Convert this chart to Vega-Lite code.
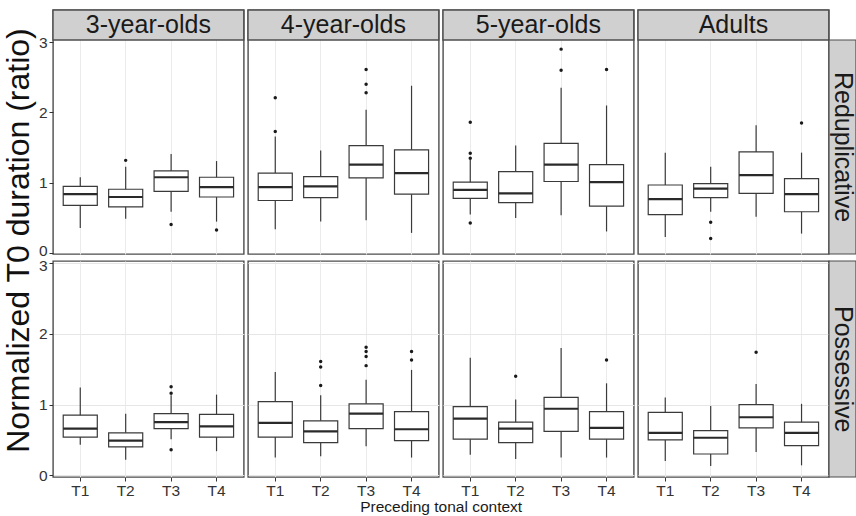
{
"$schema": "https://vega.github.io/schema/vega-lite/v6.json",
"padding": {"left": 0, "top": 8, "right": 0, "bottom": 0},
"background": "white",
"datasets": {"d": [
{"kind":"ytitle","label":"Normalized T0 duration (ratio)"},
{"kind":"rowlab","type":"Reduplicative"},
{"kind":"rowlab","type":"Possessive"},
{"kind":"lab","type":"Reduplicative","age":"3-year-olds"},
{"kind":"lab","type":"Reduplicative","age":"4-year-olds"},
{"kind":"lab","type":"Reduplicative","age":"5-year-olds"},
{"kind":"lab","type":"Reduplicative","age":"Adults"},
{"kind":"box","type":"Reduplicative","age":"3-year-olds","ctx":"T1","low":0.36,"q1":0.68,"median":0.84,"q3":0.95,"high":1.08},
{"kind":"box","type":"Reduplicative","age":"3-year-olds","ctx":"T2","low":0.49,"q1":0.66,"median":0.80,"q3":0.91,"high":1.23},
{"kind":"box","type":"Reduplicative","age":"3-year-olds","ctx":"T3","low":0.59,"q1":0.88,"median":1.08,"q3":1.17,"high":1.41},
{"kind":"box","type":"Reduplicative","age":"3-year-olds","ctx":"T4","low":0.45,"q1":0.80,"median":0.94,"q3":1.08,"high":1.31},
{"kind":"box","type":"Reduplicative","age":"4-year-olds","ctx":"T1","low":0.34,"q1":0.75,"median":0.94,"q3":1.14,"high":1.66},
{"kind":"box","type":"Reduplicative","age":"4-year-olds","ctx":"T2","low":0.45,"q1":0.79,"median":0.95,"q3":1.09,"high":1.46},
{"kind":"box","type":"Reduplicative","age":"4-year-olds","ctx":"T3","low":0.47,"q1":1.07,"median":1.26,"q3":1.53,"high":2.04},
{"kind":"box","type":"Reduplicative","age":"4-year-olds","ctx":"T4","low":0.29,"q1":0.84,"median":1.14,"q3":1.47,"high":2.38},
{"kind":"box","type":"Reduplicative","age":"5-year-olds","ctx":"T1","low":0.55,"q1":0.78,"median":0.90,"q3":1.01,"high":1.33},
{"kind":"box","type":"Reduplicative","age":"5-year-olds","ctx":"T2","low":0.50,"q1":0.72,"median":0.85,"q3":1.16,"high":1.53},
{"kind":"box","type":"Reduplicative","age":"5-year-olds","ctx":"T3","low":0.54,"q1":1.02,"median":1.26,"q3":1.56,"high":2.35},
{"kind":"box","type":"Reduplicative","age":"5-year-olds","ctx":"T4","low":0.31,"q1":0.67,"median":1.01,"q3":1.26,"high":2.10},
{"kind":"box","type":"Reduplicative","age":"Adults","ctx":"T1","low":0.23,"q1":0.55,"median":0.77,"q3":0.97,"high":1.43},
{"kind":"box","type":"Reduplicative","age":"Adults","ctx":"T2","low":0.59,"q1":0.79,"median":0.92,"q3":0.99,"high":1.23},
{"kind":"box","type":"Reduplicative","age":"Adults","ctx":"T3","low":0.52,"q1":0.85,"median":1.11,"q3":1.44,"high":1.82},
{"kind":"box","type":"Reduplicative","age":"Adults","ctx":"T4","low":0.28,"q1":0.59,"median":0.84,"q3":1.06,"high":1.43},
{"kind":"out","type":"Reduplicative","age":"3-year-olds","ctx":"T2","value":1.32},
{"kind":"out","type":"Reduplicative","age":"3-year-olds","ctx":"T3","value":0.41},
{"kind":"out","type":"Reduplicative","age":"3-year-olds","ctx":"T4","value":0.33},
{"kind":"out","type":"Reduplicative","age":"4-year-olds","ctx":"T1","value":2.21},
{"kind":"out","type":"Reduplicative","age":"4-year-olds","ctx":"T1","value":1.73},
{"kind":"out","type":"Reduplicative","age":"4-year-olds","ctx":"T3","value":2.61},
{"kind":"out","type":"Reduplicative","age":"4-year-olds","ctx":"T3","value":2.40},
{"kind":"out","type":"Reduplicative","age":"4-year-olds","ctx":"T3","value":2.28},
{"kind":"out","type":"Reduplicative","age":"5-year-olds","ctx":"T1","value":1.86},
{"kind":"out","type":"Reduplicative","age":"5-year-olds","ctx":"T1","value":1.42},
{"kind":"out","type":"Reduplicative","age":"5-year-olds","ctx":"T1","value":1.35},
{"kind":"out","type":"Reduplicative","age":"5-year-olds","ctx":"T1","value":0.43},
{"kind":"out","type":"Reduplicative","age":"5-year-olds","ctx":"T3","value":2.90},
{"kind":"out","type":"Reduplicative","age":"5-year-olds","ctx":"T3","value":2.60},
{"kind":"out","type":"Reduplicative","age":"5-year-olds","ctx":"T4","value":2.61},
{"kind":"out","type":"Reduplicative","age":"Adults","ctx":"T2","value":0.44},
{"kind":"out","type":"Reduplicative","age":"Adults","ctx":"T2","value":0.21},
{"kind":"out","type":"Reduplicative","age":"Adults","ctx":"T4","value":1.85},
{"kind":"box","type":"Possessive","age":"3-year-olds","ctx":"T1","low":0.43,"q1":0.54,"median":0.66,"q3":0.85,"high":1.24},
{"kind":"box","type":"Possessive","age":"3-year-olds","ctx":"T2","low":0.22,"q1":0.40,"median":0.49,"q3":0.60,"high":0.87},
{"kind":"box","type":"Possessive","age":"3-year-olds","ctx":"T3","low":0.51,"q1":0.66,"median":0.75,"q3":0.87,"high":1.13},
{"kind":"box","type":"Possessive","age":"3-year-olds","ctx":"T4","low":0.34,"q1":0.54,"median":0.69,"q3":0.86,"high":1.14},
{"kind":"box","type":"Possessive","age":"4-year-olds","ctx":"T1","low":0.25,"q1":0.54,"median":0.74,"q3":1.04,"high":1.46},
{"kind":"box","type":"Possessive","age":"4-year-olds","ctx":"T2","low":0.27,"q1":0.46,"median":0.62,"q3":0.77,"high":1.13},
{"kind":"box","type":"Possessive","age":"4-year-olds","ctx":"T3","low":0.41,"q1":0.66,"median":0.87,"q3":1.01,"high":1.35},
{"kind":"box","type":"Possessive","age":"4-year-olds","ctx":"T4","low":0.25,"q1":0.49,"median":0.65,"q3":0.90,"high":1.49},
{"kind":"box","type":"Possessive","age":"5-year-olds","ctx":"T1","low":0.29,"q1":0.51,"median":0.80,"q3":0.97,"high":1.66},
{"kind":"box","type":"Possessive","age":"5-year-olds","ctx":"T2","low":0.23,"q1":0.46,"median":0.66,"q3":0.75,"high":1.07},
{"kind":"box","type":"Possessive","age":"5-year-olds","ctx":"T3","low":0.25,"q1":0.62,"median":0.94,"q3":1.10,"high":1.80},
{"kind":"box","type":"Possessive","age":"5-year-olds","ctx":"T4","low":0.25,"q1":0.51,"median":0.67,"q3":0.90,"high":1.30},
{"kind":"box","type":"Possessive","age":"Adults","ctx":"T1","low":0.20,"q1":0.50,"median":0.60,"q3":0.89,"high":1.10},
{"kind":"box","type":"Possessive","age":"Adults","ctx":"T2","low":0.13,"q1":0.30,"median":0.53,"q3":0.63,"high":0.98},
{"kind":"box","type":"Possessive","age":"Adults","ctx":"T3","low":0.33,"q1":0.67,"median":0.82,"q3":1.00,"high":1.29},
{"kind":"box","type":"Possessive","age":"Adults","ctx":"T4","low":0.14,"q1":0.42,"median":0.60,"q3":0.75,"high":1.01},
{"kind":"out","type":"Possessive","age":"3-year-olds","ctx":"T3","value":1.25},
{"kind":"out","type":"Possessive","age":"3-year-olds","ctx":"T3","value":1.16},
{"kind":"out","type":"Possessive","age":"3-year-olds","ctx":"T3","value":0.36},
{"kind":"out","type":"Possessive","age":"4-year-olds","ctx":"T2","value":1.61},
{"kind":"out","type":"Possessive","age":"4-year-olds","ctx":"T2","value":1.53},
{"kind":"out","type":"Possessive","age":"4-year-olds","ctx":"T2","value":1.27},
{"kind":"out","type":"Possessive","age":"4-year-olds","ctx":"T3","value":1.81},
{"kind":"out","type":"Possessive","age":"4-year-olds","ctx":"T3","value":1.75},
{"kind":"out","type":"Possessive","age":"4-year-olds","ctx":"T3","value":1.68},
{"kind":"out","type":"Possessive","age":"4-year-olds","ctx":"T3","value":1.55},
{"kind":"out","type":"Possessive","age":"4-year-olds","ctx":"T4","value":1.75},
{"kind":"out","type":"Possessive","age":"4-year-olds","ctx":"T4","value":1.63},
{"kind":"out","type":"Possessive","age":"5-year-olds","ctx":"T2","value":1.40},
{"kind":"out","type":"Possessive","age":"5-year-olds","ctx":"T4","value":1.63},
{"kind":"out","type":"Possessive","age":"Adults","ctx":"T3","value":1.74}
]},
"hconcat": [
{
 "data": {"name": "d"},
 "transform": [{"filter": "datum.kind === 'ytitle'"}],
 "width": 37, "height": 467,
 "view": {"stroke": null},
 "mark": {"type": "text", "angle": 270, "fontSize": 32, "color": "#111111", "baseline": "middle", "align": "center", "dx": 3},
 "encoding": {"text": {"field": "label"}}
},
{
 "title": {"text": "Preceding tonal context", "orient": "bottom", "anchor": "middle", "fontSize": 15.5, "fontWeight": "normal", "color": "#1a1a1a", "offset": 1, "dx": -6},
 "columns": 5,
 "spacing": {"row": 7, "column": 4},
 "align": "each",
 "bounds": "flush",
 "concat": [
  {"data": {"name": "d"}, "transform": [{"filter": "datum.type === 'Reduplicative' && datum.age === '3-year-olds'"}], "width": 190.8, "height": 244,
   "layer": [
    {"transform": [{"filter": "datum.kind === 'lab'"}], "mark": {"type": "rect", "fill": "#d0d0d0", "stroke": "#4d4d4d", "strokeWidth": 1.4},
     "encoding": {"y": {"datum": 3.03, "type": "quantitative", "title": null, "scale": {"domain": [-0.01, 3.456], "nice": false, "zero": false},
       "axis": {"values": [0,0.5,1,1.5,2,2.5,3], "title": null, "labelExpr": "datum.value % 1 === 0 ? '' + datum.value : ''", "labelOffset": {"condition": {"test": "datum.value === 0", "value": -3}, "value": 0}, "tickOpacity": {"condition": {"test": "datum.value % 1 === 0", "value": 1}, "value": 0}, "gridColor": {"condition": {"test": "datum.value % 1 === 0", "value": "#e6e6e6"}, "value": "#f2f2f2"}}},
      "y2": {"datum": 3.456}}},
    {"transform": [{"filter": "datum.kind === 'lab'"}], "mark": {"type": "text", "fontSize": 25, "color": "#1a1a1a", "baseline": "middle"},
     "encoding": {"text": {"field": "age"}, "y": {"datum": 3.243, "type": "quantitative", "title": null, "scale": {"domain": [-0.01, 3.456], "nice": false, "zero": false}}}},
    {"transform": [{"filter": "datum.kind === 'box'"}], "mark": {"type": "rule", "color": "#3a3a3a", "strokeWidth": 1.2},
     "encoding": {"x": {"field": "ctx", "type": "nominal", "title": null, "scale": {"paddingInner": 0.25, "paddingOuter": 0.225}, "axis": {"title": null, "bandPosition": 0.5, "grid": true, "labels": false, "ticks": false}},
      "y": {"field": "low", "type": "quantitative", "title": null, "scale": {"domain": [-0.01, 3.456], "nice": false, "zero": false}}, "y2": {"field": "high"}}},
    {"transform": [{"filter": "datum.kind === 'box'"}], "mark": {"type": "bar", "fill": "white", "stroke": "#3a3a3a", "strokeWidth": 1.2},
     "encoding": {"x": {"field": "ctx", "type": "nominal", "title": null}, "y": {"field": "q1", "type": "quantitative", "title": null, "scale": {"domain": [-0.01, 3.456], "nice": false, "zero": false}}, "y2": {"field": "q3"}}},
    {"transform": [{"filter": "datum.kind === 'box'"}], "mark": {"type": "bar", "fill": "#2a2a2a", "stroke": "#2a2a2a", "strokeWidth": 2.2},
     "encoding": {"x": {"field": "ctx", "type": "nominal", "title": null}, "y": {"field": "median", "type": "quantitative", "title": null, "scale": {"domain": [-0.01, 3.456], "nice": false, "zero": false}}, "y2": {"field": "median"}}},
    {"transform": [{"filter": "datum.kind === 'out'"}], "mark": {"type": "circle", "size": 12, "color": "#1a1a1a", "opacity": 1},
     "encoding": {"x": {"field": "ctx", "type": "nominal", "title": null}, "y": {"field": "value", "type": "quantitative", "title": null, "scale": {"domain": [-0.01, 3.456], "nice": false, "zero": false}}}}
   ]},
  {"data": {"name": "d"}, "transform": [{"filter": "datum.type === 'Reduplicative' && datum.age === '4-year-olds'"}], "width": 190.8, "height": 244,
   "layer": [
    {"transform": [{"filter": "datum.kind === 'lab'"}], "mark": {"type": "rect", "fill": "#d0d0d0", "stroke": "#4d4d4d", "strokeWidth": 1.4},
     "encoding": {"y": {"datum": 3.03, "type": "quantitative", "title": null, "scale": {"domain": [-0.01, 3.456], "nice": false, "zero": false},
       "axis": {"values": [0,0.5,1,1.5,2,2.5,3], "title": null, "labels": false, "ticks": false, "gridColor": {"condition": {"test": "datum.value % 1 === 0", "value": "#e6e6e6"}, "value": "#f2f2f2"}}},
      "y2": {"datum": 3.456}}},
    {"transform": [{"filter": "datum.kind === 'lab'"}], "mark": {"type": "text", "fontSize": 25, "color": "#1a1a1a", "baseline": "middle"},
     "encoding": {"text": {"field": "age"}, "y": {"datum": 3.243, "type": "quantitative", "title": null, "scale": {"domain": [-0.01, 3.456], "nice": false, "zero": false}}}},
    {"transform": [{"filter": "datum.kind === 'box'"}], "mark": {"type": "rule", "color": "#3a3a3a", "strokeWidth": 1.2},
     "encoding": {"x": {"field": "ctx", "type": "nominal", "title": null, "scale": {"paddingInner": 0.25, "paddingOuter": 0.225}, "axis": {"title": null, "bandPosition": 0.5, "grid": true, "labels": false, "ticks": false}},
      "y": {"field": "low", "type": "quantitative", "title": null, "scale": {"domain": [-0.01, 3.456], "nice": false, "zero": false}}, "y2": {"field": "high"}}},
    {"transform": [{"filter": "datum.kind === 'box'"}], "mark": {"type": "bar", "fill": "white", "stroke": "#3a3a3a", "strokeWidth": 1.2},
     "encoding": {"x": {"field": "ctx", "type": "nominal", "title": null}, "y": {"field": "q1", "type": "quantitative", "title": null, "scale": {"domain": [-0.01, 3.456], "nice": false, "zero": false}}, "y2": {"field": "q3"}}},
    {"transform": [{"filter": "datum.kind === 'box'"}], "mark": {"type": "bar", "fill": "#2a2a2a", "stroke": "#2a2a2a", "strokeWidth": 2.2},
     "encoding": {"x": {"field": "ctx", "type": "nominal", "title": null}, "y": {"field": "median", "type": "quantitative", "title": null, "scale": {"domain": [-0.01, 3.456], "nice": false, "zero": false}}, "y2": {"field": "median"}}},
    {"transform": [{"filter": "datum.kind === 'out'"}], "mark": {"type": "circle", "size": 12, "color": "#1a1a1a", "opacity": 1},
     "encoding": {"x": {"field": "ctx", "type": "nominal", "title": null}, "y": {"field": "value", "type": "quantitative", "title": null, "scale": {"domain": [-0.01, 3.456], "nice": false, "zero": false}}}}
   ]},
  {"data": {"name": "d"}, "transform": [{"filter": "datum.type === 'Reduplicative' && datum.age === '5-year-olds'"}], "width": 190.8, "height": 244,
   "layer": [
    {"transform": [{"filter": "datum.kind === 'lab'"}], "mark": {"type": "rect", "fill": "#d0d0d0", "stroke": "#4d4d4d", "strokeWidth": 1.4},
     "encoding": {"y": {"datum": 3.03, "type": "quantitative", "title": null, "scale": {"domain": [-0.01, 3.456], "nice": false, "zero": false},
       "axis": {"values": [0,0.5,1,1.5,2,2.5,3], "title": null, "labels": false, "ticks": false, "gridColor": {"condition": {"test": "datum.value % 1 === 0", "value": "#e6e6e6"}, "value": "#f2f2f2"}}},
      "y2": {"datum": 3.456}}},
    {"transform": [{"filter": "datum.kind === 'lab'"}], "mark": {"type": "text", "fontSize": 25, "color": "#1a1a1a", "baseline": "middle"},
     "encoding": {"text": {"field": "age"}, "y": {"datum": 3.243, "type": "quantitative", "title": null, "scale": {"domain": [-0.01, 3.456], "nice": false, "zero": false}}}},
    {"transform": [{"filter": "datum.kind === 'box'"}], "mark": {"type": "rule", "color": "#3a3a3a", "strokeWidth": 1.2},
     "encoding": {"x": {"field": "ctx", "type": "nominal", "title": null, "scale": {"paddingInner": 0.25, "paddingOuter": 0.225}, "axis": {"title": null, "bandPosition": 0.5, "grid": true, "labels": false, "ticks": false}},
      "y": {"field": "low", "type": "quantitative", "title": null, "scale": {"domain": [-0.01, 3.456], "nice": false, "zero": false}}, "y2": {"field": "high"}}},
    {"transform": [{"filter": "datum.kind === 'box'"}], "mark": {"type": "bar", "fill": "white", "stroke": "#3a3a3a", "strokeWidth": 1.2},
     "encoding": {"x": {"field": "ctx", "type": "nominal", "title": null}, "y": {"field": "q1", "type": "quantitative", "title": null, "scale": {"domain": [-0.01, 3.456], "nice": false, "zero": false}}, "y2": {"field": "q3"}}},
    {"transform": [{"filter": "datum.kind === 'box'"}], "mark": {"type": "bar", "fill": "#2a2a2a", "stroke": "#2a2a2a", "strokeWidth": 2.2},
     "encoding": {"x": {"field": "ctx", "type": "nominal", "title": null}, "y": {"field": "median", "type": "quantitative", "title": null, "scale": {"domain": [-0.01, 3.456], "nice": false, "zero": false}}, "y2": {"field": "median"}}},
    {"transform": [{"filter": "datum.kind === 'out'"}], "mark": {"type": "circle", "size": 12, "color": "#1a1a1a", "opacity": 1},
     "encoding": {"x": {"field": "ctx", "type": "nominal", "title": null}, "y": {"field": "value", "type": "quantitative", "title": null, "scale": {"domain": [-0.01, 3.456], "nice": false, "zero": false}}}}
   ]},
  {"data": {"name": "d"}, "transform": [{"filter": "datum.type === 'Reduplicative' && datum.age === 'Adults'"}], "width": 190.8, "height": 244,
   "layer": [
    {"transform": [{"filter": "datum.kind === 'lab'"}], "mark": {"type": "rect", "fill": "#d0d0d0", "stroke": "#4d4d4d", "strokeWidth": 1.4},
     "encoding": {"y": {"datum": 3.03, "type": "quantitative", "title": null, "scale": {"domain": [-0.01, 3.456], "nice": false, "zero": false},
       "axis": {"values": [0,0.5,1,1.5,2,2.5,3], "title": null, "labels": false, "ticks": false, "gridColor": {"condition": {"test": "datum.value % 1 === 0", "value": "#e6e6e6"}, "value": "#f2f2f2"}}},
      "y2": {"datum": 3.456}}},
    {"transform": [{"filter": "datum.kind === 'lab'"}], "mark": {"type": "text", "fontSize": 25, "color": "#1a1a1a", "baseline": "middle"},
     "encoding": {"text": {"field": "age"}, "y": {"datum": 3.243, "type": "quantitative", "title": null, "scale": {"domain": [-0.01, 3.456], "nice": false, "zero": false}}}},
    {"transform": [{"filter": "datum.kind === 'box'"}], "mark": {"type": "rule", "color": "#3a3a3a", "strokeWidth": 1.2},
     "encoding": {"x": {"field": "ctx", "type": "nominal", "title": null, "scale": {"paddingInner": 0.25, "paddingOuter": 0.225}, "axis": {"title": null, "bandPosition": 0.5, "grid": true, "labels": false, "ticks": false}},
      "y": {"field": "low", "type": "quantitative", "title": null, "scale": {"domain": [-0.01, 3.456], "nice": false, "zero": false}}, "y2": {"field": "high"}}},
    {"transform": [{"filter": "datum.kind === 'box'"}], "mark": {"type": "bar", "fill": "white", "stroke": "#3a3a3a", "strokeWidth": 1.2},
     "encoding": {"x": {"field": "ctx", "type": "nominal", "title": null}, "y": {"field": "q1", "type": "quantitative", "title": null, "scale": {"domain": [-0.01, 3.456], "nice": false, "zero": false}}, "y2": {"field": "q3"}}},
    {"transform": [{"filter": "datum.kind === 'box'"}], "mark": {"type": "bar", "fill": "#2a2a2a", "stroke": "#2a2a2a", "strokeWidth": 2.2},
     "encoding": {"x": {"field": "ctx", "type": "nominal", "title": null}, "y": {"field": "median", "type": "quantitative", "title": null, "scale": {"domain": [-0.01, 3.456], "nice": false, "zero": false}}, "y2": {"field": "median"}}},
    {"transform": [{"filter": "datum.kind === 'out'"}], "mark": {"type": "circle", "size": 12, "color": "#1a1a1a", "opacity": 1},
     "encoding": {"x": {"field": "ctx", "type": "nominal", "title": null}, "y": {"field": "value", "type": "quantitative", "title": null, "scale": {"domain": [-0.01, 3.456], "nice": false, "zero": false}}}}
   ]},
  {"data": {"name": "d"}, "transform": [{"filter": "datum.kind === 'rowlab' && datum.type === 'Reduplicative'"}], "width": 23, "height": 244, "view": {"stroke": null},
   "layer": [
    {"mark": {"type": "rect", "fill": "#d0d0d0", "stroke": "#4d4d4d", "strokeWidth": 1.2},
     "encoding": {"x": {"datum": -0.1739, "type": "quantitative", "scale": {"domain": [0, 1], "nice": false, "zero": false}, "axis": null}, "x2": {"datum": 1},
      "y": {"datum": 3.03, "type": "quantitative", "scale": {"domain": [-0.01, 3.456], "nice": false, "zero": false}, "axis": null}, "y2": {"datum": -0.01}}},
    {"mark": {"type": "text", "angle": 90, "fontSize": 25, "color": "#1a1a1a", "baseline": "middle", "align": "center"},
     "encoding": {"text": {"field": "type"}, "x": {"datum": 0.42, "type": "quantitative", "scale": {"domain": [0, 1], "nice": false, "zero": false}, "axis": null},
      "y": {"datum": 1.51, "type": "quantitative", "scale": {"domain": [-0.01, 3.456], "nice": false, "zero": false}, "axis": null}}}
   ]},
  {"data": {"name": "d"}, "transform": [{"filter": "datum.type === 'Possessive' && datum.age === '3-year-olds'"}], "width": 190.8, "height": 216,
   "layer": [
    {"transform": [{"filter": "datum.kind === 'box'"}], "mark": {"type": "rule", "color": "#3a3a3a", "strokeWidth": 1.2},
     "encoding": {"x": {"field": "ctx", "type": "nominal", "title": null, "scale": {"paddingInner": 0.25, "paddingOuter": 0.225}, "axis": {"title": null, "bandPosition": 0.5, "grid": true, "labelAngle": 0}},
      "y": {"field": "low", "type": "quantitative", "title": null, "scale": {"domain": [-0.025, 3.03], "nice": false, "zero": false},
       "axis": {"values": [0,0.5,1,1.5,2,2.5,3], "title": null, "labelExpr": "datum.value % 1 === 0 ? '' + datum.value : ''", "labelOffset": {"condition": {"test": "datum.value === 3", "value": 2}, "value": 0}, "tickOpacity": {"condition": {"test": "datum.value % 1 === 0", "value": 1}, "value": 0}, "gridColor": {"condition": {"test": "datum.value % 1 === 0", "value": "#e6e6e6"}, "value": "#f2f2f2"}}},
      "y2": {"field": "high"}}},
    {"transform": [{"filter": "datum.kind === 'box'"}], "mark": {"type": "bar", "fill": "white", "stroke": "#3a3a3a", "strokeWidth": 1.2},
     "encoding": {"x": {"field": "ctx", "type": "nominal", "title": null}, "y": {"field": "q1", "type": "quantitative", "title": null, "scale": {"domain": [-0.025, 3.03], "nice": false, "zero": false}}, "y2": {"field": "q3"}}},
    {"transform": [{"filter": "datum.kind === 'box'"}], "mark": {"type": "bar", "fill": "#2a2a2a", "stroke": "#2a2a2a", "strokeWidth": 2.2},
     "encoding": {"x": {"field": "ctx", "type": "nominal", "title": null}, "y": {"field": "median", "type": "quantitative", "title": null, "scale": {"domain": [-0.025, 3.03], "nice": false, "zero": false}}, "y2": {"field": "median"}}},
    {"transform": [{"filter": "datum.kind === 'out'"}], "mark": {"type": "circle", "size": 12, "color": "#1a1a1a", "opacity": 1},
     "encoding": {"x": {"field": "ctx", "type": "nominal", "title": null}, "y": {"field": "value", "type": "quantitative", "title": null, "scale": {"domain": [-0.025, 3.03], "nice": false, "zero": false}}}}
   ]},
  {"data": {"name": "d"}, "transform": [{"filter": "datum.type === 'Possessive' && datum.age === '4-year-olds'"}], "width": 190.8, "height": 216,
   "layer": [
    {"transform": [{"filter": "datum.kind === 'box'"}], "mark": {"type": "rule", "color": "#3a3a3a", "strokeWidth": 1.2},
     "encoding": {"x": {"field": "ctx", "type": "nominal", "title": null, "scale": {"paddingInner": 0.25, "paddingOuter": 0.225}, "axis": {"title": null, "bandPosition": 0.5, "grid": true, "labelAngle": 0}},
      "y": {"field": "low", "type": "quantitative", "title": null, "scale": {"domain": [-0.025, 3.03], "nice": false, "zero": false},
       "axis": {"values": [0,0.5,1,1.5,2,2.5,3], "title": null, "labels": false, "ticks": false, "gridColor": {"condition": {"test": "datum.value % 1 === 0", "value": "#e6e6e6"}, "value": "#f2f2f2"}}},
      "y2": {"field": "high"}}},
    {"transform": [{"filter": "datum.kind === 'box'"}], "mark": {"type": "bar", "fill": "white", "stroke": "#3a3a3a", "strokeWidth": 1.2},
     "encoding": {"x": {"field": "ctx", "type": "nominal", "title": null}, "y": {"field": "q1", "type": "quantitative", "title": null, "scale": {"domain": [-0.025, 3.03], "nice": false, "zero": false}}, "y2": {"field": "q3"}}},
    {"transform": [{"filter": "datum.kind === 'box'"}], "mark": {"type": "bar", "fill": "#2a2a2a", "stroke": "#2a2a2a", "strokeWidth": 2.2},
     "encoding": {"x": {"field": "ctx", "type": "nominal", "title": null}, "y": {"field": "median", "type": "quantitative", "title": null, "scale": {"domain": [-0.025, 3.03], "nice": false, "zero": false}}, "y2": {"field": "median"}}},
    {"transform": [{"filter": "datum.kind === 'out'"}], "mark": {"type": "circle", "size": 12, "color": "#1a1a1a", "opacity": 1},
     "encoding": {"x": {"field": "ctx", "type": "nominal", "title": null}, "y": {"field": "value", "type": "quantitative", "title": null, "scale": {"domain": [-0.025, 3.03], "nice": false, "zero": false}}}}
   ]},
  {"data": {"name": "d"}, "transform": [{"filter": "datum.type === 'Possessive' && datum.age === '5-year-olds'"}], "width": 190.8, "height": 216,
   "layer": [
    {"transform": [{"filter": "datum.kind === 'box'"}], "mark": {"type": "rule", "color": "#3a3a3a", "strokeWidth": 1.2},
     "encoding": {"x": {"field": "ctx", "type": "nominal", "title": null, "scale": {"paddingInner": 0.25, "paddingOuter": 0.225}, "axis": {"title": null, "bandPosition": 0.5, "grid": true, "labelAngle": 0}},
      "y": {"field": "low", "type": "quantitative", "title": null, "scale": {"domain": [-0.025, 3.03], "nice": false, "zero": false},
       "axis": {"values": [0,0.5,1,1.5,2,2.5,3], "title": null, "labels": false, "ticks": false, "gridColor": {"condition": {"test": "datum.value % 1 === 0", "value": "#e6e6e6"}, "value": "#f2f2f2"}}},
      "y2": {"field": "high"}}},
    {"transform": [{"filter": "datum.kind === 'box'"}], "mark": {"type": "bar", "fill": "white", "stroke": "#3a3a3a", "strokeWidth": 1.2},
     "encoding": {"x": {"field": "ctx", "type": "nominal", "title": null}, "y": {"field": "q1", "type": "quantitative", "title": null, "scale": {"domain": [-0.025, 3.03], "nice": false, "zero": false}}, "y2": {"field": "q3"}}},
    {"transform": [{"filter": "datum.kind === 'box'"}], "mark": {"type": "bar", "fill": "#2a2a2a", "stroke": "#2a2a2a", "strokeWidth": 2.2},
     "encoding": {"x": {"field": "ctx", "type": "nominal", "title": null}, "y": {"field": "median", "type": "quantitative", "title": null, "scale": {"domain": [-0.025, 3.03], "nice": false, "zero": false}}, "y2": {"field": "median"}}},
    {"transform": [{"filter": "datum.kind === 'out'"}], "mark": {"type": "circle", "size": 12, "color": "#1a1a1a", "opacity": 1},
     "encoding": {"x": {"field": "ctx", "type": "nominal", "title": null}, "y": {"field": "value", "type": "quantitative", "title": null, "scale": {"domain": [-0.025, 3.03], "nice": false, "zero": false}}}}
   ]},
  {"data": {"name": "d"}, "transform": [{"filter": "datum.type === 'Possessive' && datum.age === 'Adults'"}], "width": 190.8, "height": 216,
   "layer": [
    {"transform": [{"filter": "datum.kind === 'box'"}], "mark": {"type": "rule", "color": "#3a3a3a", "strokeWidth": 1.2},
     "encoding": {"x": {"field": "ctx", "type": "nominal", "title": null, "scale": {"paddingInner": 0.25, "paddingOuter": 0.225}, "axis": {"title": null, "bandPosition": 0.5, "grid": true, "labelAngle": 0}},
      "y": {"field": "low", "type": "quantitative", "title": null, "scale": {"domain": [-0.025, 3.03], "nice": false, "zero": false},
       "axis": {"values": [0,0.5,1,1.5,2,2.5,3], "title": null, "labels": false, "ticks": false, "gridColor": {"condition": {"test": "datum.value % 1 === 0", "value": "#e6e6e6"}, "value": "#f2f2f2"}}},
      "y2": {"field": "high"}}},
    {"transform": [{"filter": "datum.kind === 'box'"}], "mark": {"type": "bar", "fill": "white", "stroke": "#3a3a3a", "strokeWidth": 1.2},
     "encoding": {"x": {"field": "ctx", "type": "nominal", "title": null}, "y": {"field": "q1", "type": "quantitative", "title": null, "scale": {"domain": [-0.025, 3.03], "nice": false, "zero": false}}, "y2": {"field": "q3"}}},
    {"transform": [{"filter": "datum.kind === 'box'"}], "mark": {"type": "bar", "fill": "#2a2a2a", "stroke": "#2a2a2a", "strokeWidth": 2.2},
     "encoding": {"x": {"field": "ctx", "type": "nominal", "title": null}, "y": {"field": "median", "type": "quantitative", "title": null, "scale": {"domain": [-0.025, 3.03], "nice": false, "zero": false}}, "y2": {"field": "median"}}},
    {"transform": [{"filter": "datum.kind === 'out'"}], "mark": {"type": "circle", "size": 12, "color": "#1a1a1a", "opacity": 1},
     "encoding": {"x": {"field": "ctx", "type": "nominal", "title": null}, "y": {"field": "value", "type": "quantitative", "title": null, "scale": {"domain": [-0.025, 3.03], "nice": false, "zero": false}}}}
   ]},
  {"data": {"name": "d"}, "transform": [{"filter": "datum.kind === 'rowlab' && datum.type === 'Possessive'"}], "width": 23, "height": 216, "view": {"stroke": null},
   "layer": [
    {"mark": {"type": "rect", "fill": "#d0d0d0", "stroke": "#4d4d4d", "strokeWidth": 1.2},
     "encoding": {"x": {"datum": -0.1739, "type": "quantitative", "scale": {"domain": [0, 1], "nice": false, "zero": false}, "axis": null}, "x2": {"datum": 1},
      "y": {"datum": 3.03, "type": "quantitative", "scale": {"domain": [-0.025, 3.03], "nice": false, "zero": false}, "axis": null}, "y2": {"datum": -0.025}}},
    {"mark": {"type": "text", "angle": 90, "fontSize": 25, "color": "#1a1a1a", "baseline": "middle", "align": "center"},
     "encoding": {"text": {"field": "type"}, "x": {"datum": 0.42, "type": "quantitative", "scale": {"domain": [0, 1], "nice": false, "zero": false}, "axis": null},
      "y": {"datum": 1.5, "type": "quantitative", "scale": {"domain": [-0.025, 3.03], "nice": false, "zero": false}, "axis": null}}}
   ]}
 ]
}
],
"spacing": 0,
"config": {
 "font": "Liberation Sans",
 "view": {"stroke": "#4d4d4d", "strokeWidth": 1.4},
 "axis": {"domain": false, "gridColor": "#ebebeb", "gridWidth": 1, "tickColor": "#333333", "tickSize": 4, "tickWidth": 1, "labelColor": "#333333", "labelFontSize": 15.5, "labelPadding": 2, "labelFont": "Liberation Sans"},
 "text": {"font": "Liberation Sans"}
}
}
